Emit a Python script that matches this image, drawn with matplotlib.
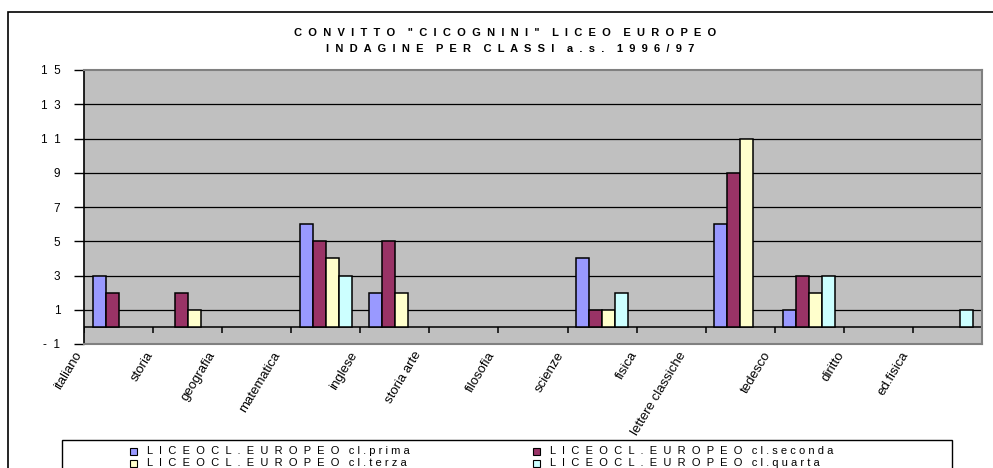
import numpy as np
import matplotlib
matplotlib.use('Agg')
import matplotlib.pyplot as plt
from matplotlib.patches import Rectangle
from matplotlib.transforms import ScaledTranslation

plt.rcParams['font.family'] = ['Liberation Sans', 'DejaVu Sans']

subjects = ['italiano', 'storia', 'geografia', 'matematica', 'inglese', 'storia arte',
            'filosofia', 'scienze', 'fisica', 'lettere classiche', 'tedesco', 'diritto',
            'ed.fisica']
prima = [3, 0, 0, 6, 2, 0, 0, 4, 0, 6, 1, 0, 0]
seconda = [2, 2, 0, 5, 5, 0, 0, 1, 0, 9, 3, 0, 0]
terza = [0, 1, 0, 4, 2, 0, 0, 1, 0, 11, 2, 0, 0]
quarta = [0, 0, 0, 3, 0, 0, 0, 2, 0, 0, 3, 0, 1]
series_names = ['LICEOCL.EUROPEO cl.prima', 'LICEOCL.EUROPEO cl.seconda',
                'LICEOCL.EUROPEO cl.terza', 'LICEOCL.EUROPEO cl.quarta']
colors = ['#9999FF', '#993366', '#FFFFCC', '#CCFFFF']
yticks = list(range(-1, 16, 2))
title1 = 'CONVITTO "CICOGNINI" LICEO EUROPEO'
title2 = 'INDAGINE PER CLASSI a.s. 1996/97'


def spaced(s, gap='  ', word_gap='    '):
    # spread the letters out like the original rendering
    return word_gap.join(gap.join(word) for word in s.split(' '))


def legend_text(s):
    school, cls = s.split(' ')
    return spaced(school, word_gap='      ') + '   ' + ' '.join(cls)


fig = plt.figure(figsize=(9.93, 4.68), dpi=100)
ax = fig.add_axes([84 / 993, 1 - 344 / 468, 898 / 993, 274 / 468])
ax.set_facecolor('#C0C0C0')

# outer chart frame
fig.patches.append(Rectangle((8 / 993, -0.05), 1.1, 1.05 - 12 / 468, transform=fig.transFigure,
                             fill=False, ec='black', lw=1.2, zorder=0))

x = np.arange(len(subjects))
w = 0.188
for k, (vals, c) in enumerate(zip([prima, seconda, terza, quarta], colors)):
    h = np.array(vals, dtype=float)
    h[h == 0] = np.nan  # empty cells are not drawn
    ax.bar(x + (k - 1.5) * w, h, width=w, color=c, edgecolor='black', lw=1.1, zorder=3)

ax.set_xlim(-0.5, len(subjects) - 0.5)
ax.set_ylim(-1, 15)
for v in yticks[1:-1]:
    ax.axhline(v, color='black', lw=0.9, zorder=1)
ax.axhline(0, color='black', lw=1.1, zorder=2)
ax.vlines(np.arange(len(subjects) + 1) - 0.5, -0.38, 0, color='black', lw=1.1, zorder=2)

ax.set_yticks(yticks, labels=['  '.join(str(v)) for v in yticks])
ax.tick_params(axis='y', length=7, width=1, color='black', pad=10, labelsize=8.5)
ax.set_xticks(np.arange(len(subjects) + 1) - 0.5, labels=subjects + [''])
ax.tick_params(axis='x', length=0, pad=4, labelsize=9.5)

# longer labels sit further left of their tick, as in the original
renderer = fig.canvas.get_renderer()
for lab in ax.get_xticklabels():
    lab.set_rotation(59)
    lab.set_ha('right')
    lab.set_va('top')
    lab.set_rotation_mode('anchor')
    L, _, _ = renderer.get_text_width_height_descent(lab.get_text(), lab.get_fontproperties(), ismath=False)
    dx = 9.0 + max(0.32 * L - 12, -2)
    lab.set_transform(lab.get_transform() + ScaledTranslation(-dx / 100, 0, fig.dpi_scale_trans))

for s in ['top', 'right', 'bottom']:
    ax.spines[s].set_color('#808080')
    ax.spines[s].set_linewidth(1.5)
ax.spines['left'].set_color('black')
ax.spines['left'].set_linewidth(1.2)

fig.text(505 / 993, 1 - 33 / 468, spaced(title1),
         ha='center', va='center', fontsize=8, fontweight='bold')
fig.text(510 / 993, 1 - 49 / 468, spaced(title2),
         ha='center', va='center', fontsize=8, fontweight='bold')

# legend box
fig.patches.append(Rectangle((62 / 993, -0.05), 890 / 993, 0.05 + 1 - 440 / 468,
                             transform=fig.transFigure, fill=False, ec='black', lw=1.0))
col_x = [130, 533]
row_y = [451, 463]
for i, (name, c) in enumerate(zip(series_names, colors)):
    px = col_x[i % 2]
    py = row_y[i // 2]
    fig.patches.append(Rectangle((px / 993, 1 - (py + 4) / 468), 7 / 993, 7 / 468,
                                 transform=fig.transFigure, fc=c, ec='black', lw=0.8))
    fig.text((px + 17) / 993, 1 - py / 468, legend_text(name), ha='left', va='center', fontsize=8)

fig.savefig('out.png', dpi=100)
